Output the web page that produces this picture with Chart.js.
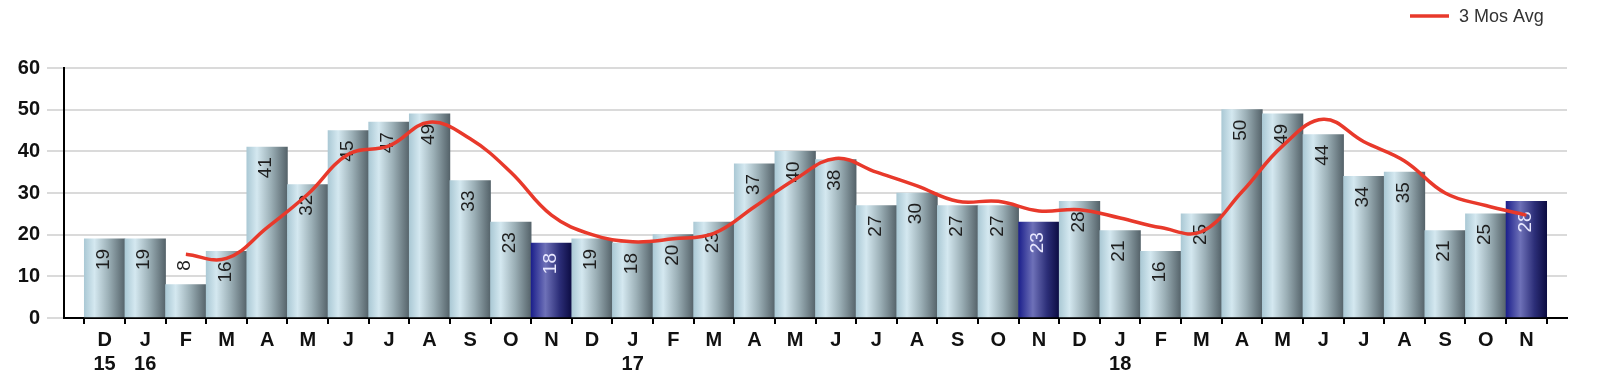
<!DOCTYPE html>
<html>
<head>
<meta charset="utf-8">
<title>Monthly count with 3 month average</title>
<script src="https://cdn.jsdelivr.net/npm/chart.js@4.4.1/dist/chart.umd.min.js"></script>
<style>
  html, body { margin: 0; padding: 0; background: #fff; }
  #wrap { width: 1600px; height: 391px; position: relative; }
</style>
</head>
<body>
<div id="wrap"><canvas id="monthChart"></canvas></div>
<script>
// data (Dec 15 .. Nov 18)
const monthLabels = [
  ["D", "15"], ["J", "16"], "F", "M", "A", "M", "J", "J", "A", "S", "O", "N",
  "D", ["J", "17"], "F", "M", "A", "M", "J", "J", "A", "S", "O", "N",
  "D", ["J", "18"], "F", "M", "A", "M", "J", "J", "A", "S", "O", "N",
]
const monthCounts = [
  19, 19, 8, 16, 41, 32, 45, 47, 49, 33, 23, 18,
  19, 18, 20, 23, 37, 40, 38, 27, 30, 27, 27, 23,
  28, 21, 16, 25, 50, 49, 44, 34, 35, 21, 25, 28,
]
const avg3Months = [
  null, null, 15.3, 14.3, 21.7, 29.7, 39.3, 41.3, 47, 43, 35, 24.7,
  20, 18.3, 19, 20.3, 26.7, 33.3, 38.3, 35, 31.7, 28, 28, 25.7,
  26, 24, 21.7, 20.7, 30.3, 41.3, 47.7, 42.3, 37.7, 30, 27, 24.7,
]
const yTicks = [0, 10, 20, 30, 40, 50, 60]
const avgLabel = "3 Mos Avg"

// empty slot on each side of the axis
const labels = [""].concat(monthLabels, [""])
const barData = [null].concat(monthCounts, [null])
const lineData = [null].concat(avg3Months, [null])

function isNovember(i) {
  return labels[i] === "N"
}

function barFill(context) {
  const chart = context.chart
  const x = chart.scales.x
  const i = context.dataIndex
  if (!x || i === undefined) return "#b0c8d2"
  const w = x.getPixelForValue(1) - x.getPixelForValue(0)
  const cx = x.getPixelForValue(i)
  if (!isFinite(w) || !isFinite(cx) || w <= 0) return isNovember(i) ? "#2c2e78" : "#b0c8d2"
  const g = chart.ctx.createLinearGradient(cx - w / 2, 0, cx + w / 2, 0)
  if (isNovember(i)) {
    g.addColorStop(0, "#1c208c")
    g.addColorStop(0.35, "#6e71b8")
    g.addColorStop(0.7, "#2c2e78")
    g.addColorStop(1, "#0c0c42")
  } else {
    g.addColorStop(0, "#abc9d5")
    g.addColorStop(0.25, "#d4e8f0")
    g.addColorStop(0.6, "#9bafb6")
    g.addColorStop(1, "#55636a")
  }
  return g
}

// value labels, drawn right after the bars so the line sits on top
const barLabels = {
  id: "barLabels",
  afterDatasetDraw(chart, args) {
    if (args.index !== 0) return
    const ctx = chart.ctx
    const meta = args.meta
    ctx.save()
    ctx.font = "19px 'Liberation Sans', Arial, sans-serif"
    ctx.textBaseline = "middle"
    meta.data.forEach(function (bar, i) {
      const v = barData[i]
      if (v === null || v === undefined) return
      const text = String(v)
      const tw = ctx.measureText(text).width
      const h = bar.base - bar.y
      ctx.save()
      ctx.translate(bar.x - 1, bar.y)
      ctx.rotate(-Math.PI / 2)
      if (h < tw + 30) {
        ctx.textAlign = "left"
        ctx.fillStyle = "#222"
        ctx.fillText(text, 14, 0)
      } else {
        ctx.textAlign = "right"
        ctx.fillStyle = isNovember(i) ? "#e8e8ff" : "#1e1e1e"
        ctx.fillText(text, -10, 0)
      }
      ctx.restore()
    })
    ctx.restore()
  },
}

// legend entry in the top right corner
const avgLegend = {
  id: "avgLegend",
  afterDraw(chart) {
    const ctx = chart.ctx
    ctx.save()
    ctx.strokeStyle = "#e8392b"
    ctx.lineWidth = 3.5
    ctx.beginPath()
    ctx.moveTo(1410, 16)
    ctx.lineTo(1449, 16)
    ctx.stroke()
    ctx.font = "18px 'Liberation Sans', Arial, sans-serif"
    ctx.fillStyle = "#333"
    ctx.textBaseline = "middle"
    ctx.textAlign = "left"
    ctx.fillText(avgLabel, 1459, 17)
    ctx.restore()
  },
}

// Chart
var ctx = document.getElementById("monthChart").getContext("2d")
var monthChart = new Chart(ctx, {
  type: "bar",
  data: {
    labels: labels,
    datasets: [
      {
        type: "bar",
        label: "Count",
        data: barData,
        backgroundColor: barFill,
        borderWidth: 0,
        barPercentage: 1,
        categoryPercentage: 1,
        order: 1,
      },
      {
        type: "line",
        label: avgLabel,
        data: lineData,
        borderColor: "#e8392b",
        borderWidth: 3.5,
        pointRadius: 0,
        tension: 0.4,
        fill: false,
        order: 0,
      },
    ],
  },
  options: {
    responsive: true,
    maintainAspectRatio: false,
    animation: false,
    layout: {
      padding: { left: 0, right: 33, top: 68, bottom: 0 },
    },
    plugins: {
      legend: { display: false },
      tooltip: { enabled: false },
    },
    scales: {
      x: {
        offset: false,
        grid: {
          drawOnChartArea: false,
          drawTicks: true,
          tickLength: 6,
          color: "#000",
          lineWidth: 2,
        },
        border: { color: "#000", width: 2 },
        ticks: {
          autoSkip: false,
          maxRotation: 0,
          padding: 4,
          color: "#111",
          font: { family: "'Liberation Sans', Arial, sans-serif", size: 20, weight: "bold", lineHeight: 1.22 },
        },
        afterFit: function (scale) {
          scale.height = 73
        },
      },
      y: {
        min: yTicks[0],
        max: yTicks[yTicks.length - 1],
        afterBuildTicks: function (scale) {
          scale.ticks = yTicks.map(function (v) { return { value: v } })
        },
        grid: {
          color: "#dadada",
          lineWidth: 2,
          tickLength: 17,
        },
        border: { color: "#000", width: 2 },
        ticks: {
          padding: 7,
          color: "#111",
          font: { family: "'Liberation Sans', Arial, sans-serif", size: 20, weight: "bold" },
        },
        afterFit: function (scale) {
          scale.width = 64
        },
      },
    },
  },
  plugins: [barLabels, avgLegend],
})
</script>
</body>
</html>
